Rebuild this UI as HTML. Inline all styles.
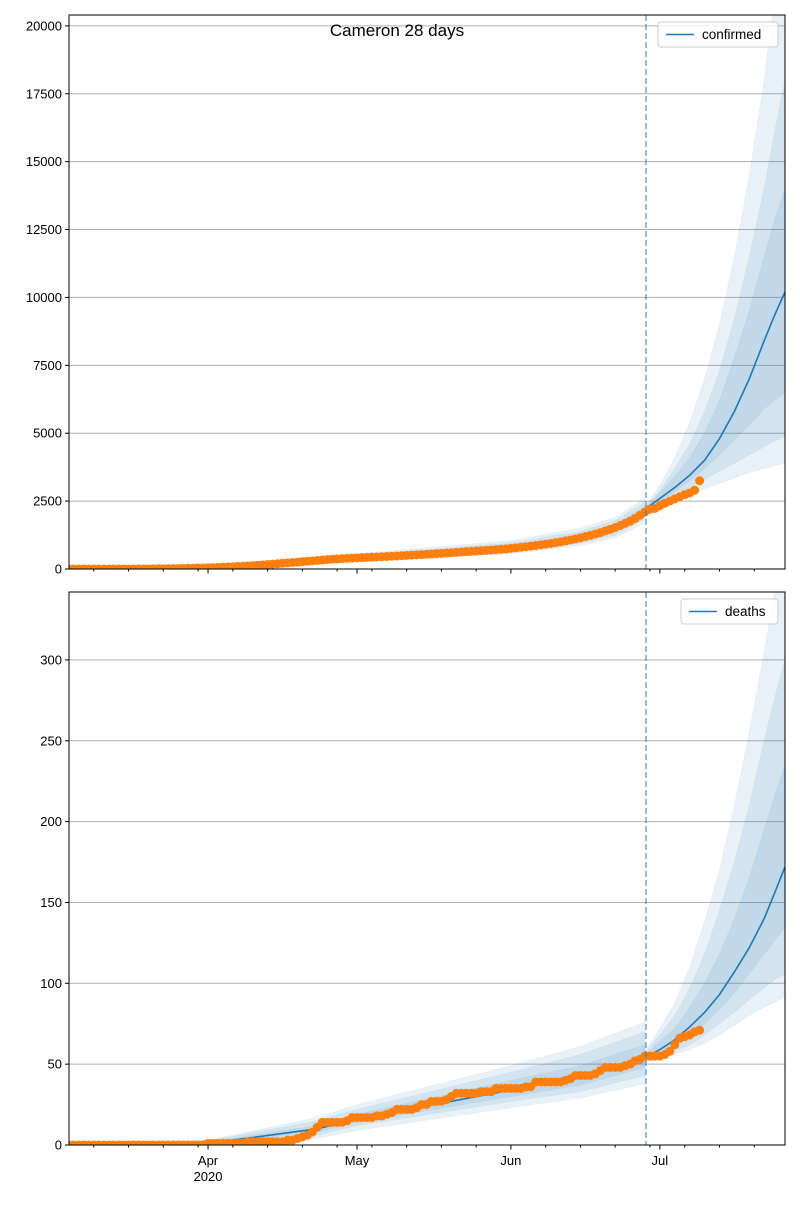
<!DOCTYPE html>
<html><head><meta charset="utf-8"><style>
body{margin:0;background:#fff}
svg text{font-family:"Liberation Sans","DejaVu Sans",sans-serif}
</style></head><body>
<svg id="chart" width="800" height="1200" xmlns="http://www.w3.org/2000/svg"></svg>
<script>
// ---- data (day index 0 = Mar 4, 2020) ----
const confirmedObs = [0,0,0,0,0,0,0,0,0,0,0,0,1,2,3,4,5,6,8,10,12,15,18,22,26,30,35,40,
45,52,60,68,76,85,95,105,115,125,138,150,165,180,195,210,225,240,255,270,285,300,315,330,345,360,372,383,393,402,410,
418,426,435,443,452,460,470,480,490,500,510,520,530,540,552,563,575,588,600,612,625,638,650,662,675,688,700,712,725,740,
760,780,800,820,842,865,890,915,940,970,1000,1035,1070,1110,1150,1195,1240,1290,1340,1400,1460,1530,1600,1680,1760,1860,1980,
2100,2200,2230,2330,2420,2500,2580,2660,2740,2800,2900,3250];
const deathsObs = [0,0,0,0,0,0,0,0,0,0,0,0,0,0,0,0,0,0,0,0,0,0,0,0,0,0,0,0,
1,1,1,1,1,1,1,1,2,2,2,2,2,2,2,2,3,3,4,5,6,8,11,14,14,14,14,14,15,17,17,
17,17,17,18,18,19,20,22,22,22,22,23,25,25,27,27,27,28,30,32,32,32,32,32,33,33,33,35,35,35,
35,35,35,36,36,39,39,39,39,39,39,40,41,43,43,43,43,44,46,48,48,48,48,49,50,52,53,
55,55,55,55,56,58,62,66,67,68,70,71];

const cFitDays = [0,28,58,89,103,110,116];
const cFitMed = [0,60,410,780,1150,1500,2150];
const cFitHi3 = [0,100,560,1050,1500,1900,2600];
const cFitHi2 = [0,85,510,960,1380,1780,2450];
const cFitHi1 = [0,75,460,870,1260,1640,2300];
const cFitLo1 = [0,50,370,700,1040,1360,2000];
const cFitLo2 = [0,40,330,630,950,1250,1850];
const cFitLo3 = [0,30,290,560,860,1140,1700];

const fcDays = [116,119,122,125,128,131,134,137,140,142,144.2];
const cFcMed = [2200,2600,3000,3450,4000,4800,5800,7000,8400,9300,10200];
const cFcHi3 = [2300,3100,4100,5400,7000,9000,11500,14500,18000,21000,24000];
const cFcHi2 = [2280,2900,3700,4600,5800,7300,9200,11500,14000,16000,18000];
const cFcHi1 = [2250,2800,3400,4100,5000,6200,7800,9500,11500,12800,14000];
const cFcLo1 = [2150,2500,2850,3250,3700,4200,4750,5300,5900,6200,6500];
const cFcLo2 = [2120,2400,2700,3000,3300,3600,3900,4200,4500,4700,4900];
const cFcLo3 = [2100,2330,2550,2750,2950,3150,3350,3550,3700,3800,3900];

const dFitDays = [0,28,50,58,89,103,116];
const dFitMed = [0,1,10,16,34,42,54];
const dFitHi3 = [2,3,17,25,49,61,76];
const dFitHi2 = [1.5,2.5,15,22,45,56,70];
const dFitHi1 = [1,2,12,19,40,49,62];
const dFitLo1 = [0,0.5,8,14,30,37,48];
const dFitLo2 = [0,0,6,12,27,33,43];
const dFitLo3 = [0,0,4,9,23,29,38];

const dFcMed = [54,59,65,73,82,93,107,122,140,155,172];
const dFcHi3 = [58,72,88,110,138,170,210,255,305,340,375];
const dFcHi2 = [57,68,80,97,118,145,175,210,250,275,300];
const dFcHi1 = [56,64,72,85,100,118,140,165,195,215,235];
const dFcLo1 = [53,57,62,68,75,84,94,106,118,126,135];
const dFcLo2 = [52,55,58,62,68,75,82,90,97,102,106];
const dFcLo3 = [51,53,56,59,63,68,74,80,85,88,92];

const cTicks = [0,2500,5000,7500,10000,12500,15000,17500,20000];
const dTicks = [0,50,100,150,200,250,300];
const monthDays = [28,58,89,119];
const monthLabels = ["Apr","May","Jun","Jul"];
const forecastDay = 116.2;

// ---- rendering ----
const NS="http://www.w3.org/2000/svg";
const svg=document.getElementById('chart');
const X0=69,X1=785,D0=0,D1=144.2;
const xs=d=>X0+(d-D0)/(D1-D0)*(X1-X0);
function mk(tag,attrs,parent){const e=document.createElementNS(NS,tag);for(const k in attrs)e.setAttribute(k,attrs[k]);(parent||svg).appendChild(e);return e;}

function panel(cfg){
  const {top,bottom,ymax,ticks,obs,fitDays,fit,fcMed,fcBands,legend,name,showX}=cfg;
  const ys=v=>bottom-v/ymax*(bottom-top);
  const g=mk('g',{});
  
  
  const clip=mk('clipPath',{id:'clip-'+name},g);
  mk('rect',{x:X0,y:top,width:X1-X0,height:bottom-top},clip);
  ticks.forEach(t=>{
    const y=ys(t);
    const l=mk('line',{x1:X0,x2:X1,y1:y,y2:y,stroke:'#b0b0b0','stroke-width':1},g);
    
    
    mk('line',{x1:X0-4,x2:X0,y1:y,y2:y,stroke:'#000'},g);
    const tx=mk('text',{x:X0-7,y:y+4.5,'text-anchor':'end','font-size':13,fill:'#000'},g);
    tx.textContent=t;
    
    
  });
  const pg=mk('g',{'clip-path':'url(#clip-'+name+')'},g);
  function band(days,lo,hi){
    let d='';
    days.forEach((x,i)=>{d+=(i?'L':'M')+xs(x)+','+ys(hi[i]);});
    for(let i=days.length-1;i>=0;i--)d+='L'+xs(days[i])+','+ys(lo[i]);
    const p=mk('path',{d:d+'Z',fill:'#1f77b4','fill-opacity':0.1,stroke:'#1f77b4','stroke-opacity':0.05},pg);
    
    
  }
  function line(days,vals){
    const p=mk('polyline',{points:days.map((x,i)=>xs(x)+','+ys(vals[i])).join(' '),fill:'none',stroke:'#1f77b4','stroke-width':1.6},pg);
    
    
  }
  fit.bands.forEach(b=>band(fitDays,b[0],b[1]));
  fcBands.forEach(b=>band(fcDays,b[0],b[1]));
  line(fitDays,fit.med);
  line(fcDays,fcMed);
  obs.forEach((v,i)=>{
    const c=mk('circle',{cx:xs(i),cy:ys(v),r:4.5,fill:'#ff7f0e'},pg);
    
    
  });
  const fl=mk('line',{x1:xs(forecastDay),x2:xs(forecastDay),y1:top,y2:bottom,stroke:'#1f77b4','stroke-opacity':0.6,'stroke-width':1.6,'stroke-dasharray':'6,3'},g);
  
  
  for(let d=5;d<D1;d+=7){ if(!monthDays.includes(d)) mk('line',{x1:xs(d),x2:xs(d),y1:bottom,y2:bottom+2.5,stroke:'#000'},g);}
  monthDays.forEach((d,i)=>{
    mk('line',{x1:xs(d),x2:xs(d),y1:bottom,y2:bottom+4.5,stroke:'#000'},g);
    if(showX){
      const t=mk('text',{x:xs(d),y:bottom+20,'text-anchor':'middle','font-size':13},g);
      t.textContent=monthLabels[i];
      
      
      if(i===0){const t2=mk('text',{x:xs(d),y:bottom+36,'text-anchor':'middle','font-size':13},g);t2.textContent='2020';
        
        }
    }
  });
  mk('rect',{x:X0,y:top,width:X1-X0,height:bottom-top,fill:'none',stroke:'#000','stroke-width':1},g);
  const lw=legend.w;
  const lg=mk('g',{},g);
  
  
  mk('rect',{x:X1-7-lw,y:top+7,width:lw,height:25,rx:3,fill:'#fff','fill-opacity':0.8,stroke:'#ccc'},lg);
  mk('line',{x1:X1-lw+1,x2:X1-lw+29,y1:top+19.5,y2:top+19.5,stroke:'#1f77b4','stroke-width':1.6},lg);
  const lt=mk('text',{x:X1-lw+37,y:top+24,'font-size':13.5},lg);lt.textContent=legend.text;
}
panel({top:15,bottom:569,ymax:20400,ticks:cTicks,obs:confirmedObs,fitDays:cFitDays,
  fit:{med:cFitMed,bands:[[cFitLo3,cFitHi3],[cFitLo2,cFitHi2],[cFitLo1,cFitHi1]]},
  fcMed:cFcMed,fcBands:[[cFcLo3,cFcHi3],[cFcLo2,cFcHi2],[cFcLo1,cFcHi1]],
  legend:{w:120,text:'confirmed'},name:'confirmed',showX:false});
panel({top:592,bottom:1145,ymax:342,ticks:dTicks,obs:deathsObs,fitDays:dFitDays,
  fit:{med:dFitMed,bands:[[dFitLo3,dFitHi3],[dFitLo2,dFitHi2],[dFitLo1,dFitHi1]]},
  fcMed:dFcMed,fcBands:[[dFcLo3,dFcHi3],[dFcLo2,dFcHi2],[dFcLo1,dFcHi1]],
  legend:{w:97,text:'deaths'},name:'deaths',showX:true});
const title=mk('text',{x:397,y:36,'text-anchor':'middle','font-size':17});
title.textContent='Cameron 28 days';


</script>
</body></html>
